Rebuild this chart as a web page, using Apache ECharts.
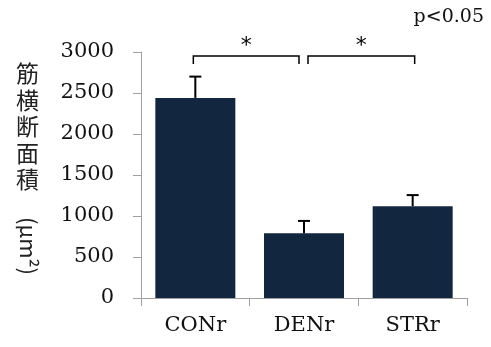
<!DOCTYPE html>
<html><head><meta charset="utf-8">
<script src="https://cdn.jsdelivr.net/npm/echarts@6/dist/echarts.min.js"></script>
<style>html,body{margin:0;padding:0;background:#fff}#c{width:491px;height:347px}</style>
</head><body><div id="c"></div>
<script>
const categories = ['CONr', 'DENr', 'STRr'];
const means = [2440, 790, 1120];
const errors = [260, 150, 135];
const yTicks = [0, 500, 1000, 1500, 2000, 2500, 3000];
const brackets = [[0, 1, 2950], [1, 2, 2950]];
const bracketLabels = ['*', '*'];

const chart = echarts.init(document.getElementById('c'), null, {renderer: 'canvas'});
const serif = 'DejaVu Serif';
chart.setOption({
  animation: false,
  grid: {left: 141, right: 24, top: 52, bottom: 49},
  xAxis: {
    type: 'category', data: categories,
    axisLine: {lineStyle: {color: '#a0a0a0', width: 1}},
    axisTick: {show: true, length: 8, lineStyle: {color: '#a0a0a0'}},
    axisLabel: {color: '#111', fontFamily: serif, fontSize: 21, margin: 17}
  },
  yAxis: {
    type: 'value', min: yTicks[0], max: yTicks[yTicks.length - 1], interval: 500,
    axisLine: {show: true, lineStyle: {color: '#a0a0a0', width: 1}},
    axisTick: {show: true, length: 8, lineStyle: {color: '#a0a0a0'}},
    splitLine: {show: false},
    axisLabel: {color: '#111', fontFamily: serif, fontSize: 21, margin: 27, formatter: v => String(v)}
  },
  graphic: [
    {type: 'text', left: 16, top: 60, style: {text: '筋\n横\n断\n面\n積', font: '23px "Noto Sans CJK JP"', lineHeight: 26.6, fill: '#222'}},
    {type: 'text', x: 28, y: 246, rotation: -Math.PI / 2, style: {text: '(μm²)', font: '22px "Noto Sans CJK JP"', fill: '#222', align: 'center', verticalAlign: 'middle'}},
    {type: 'text', right: 7, top: 8, style: {text: 'p<0.05', font: '19px "DejaVu Serif"', fill: '#111'}}
  ],
  series: [
    {type: 'bar', data: means, barWidth: 80, itemStyle: {color: '#13263f'}, z: 2},
    {
      type: 'custom', z: 3,
      data: categories.map((c, i) => [i, means[i], means[i] + errors[i]]),
      renderItem: function (params, api) {
        const lo = api.coord([api.value(0), api.value(1)]);
        const hi = api.coord([api.value(0), api.value(2)]);
        return {type: 'group', children: [
          {type: 'line', shape: {x1: lo[0], y1: lo[1], x2: hi[0], y2: hi[1]}, style: {stroke: '#000', lineWidth: 2}},
          {type: 'line', shape: {x1: hi[0] - 6, y1: hi[1], x2: hi[0] + 6, y2: hi[1]}, style: {stroke: '#000', lineWidth: 2}}
        ]};
      }
    },
    {
      type: 'custom', z: 4, clip: false,
      data: brackets.map((b, i) => [b[0], b[1], b[2], i]),
      renderItem: function (params, api) {
        const idx = params.dataIndex;
        const a = api.coord([api.value(0), api.value(2)]);
        const b = api.coord([api.value(1), api.value(2)]);
        const x1 = a[0] + (idx === 0 ? -2 : 4);
        const x2 = b[0] + (idx === 0 ? -5 : 2);
        const y = a[1];
        return {type: 'group', children: [
          {type: 'polyline', shape: {points: [[x1, y + 8], [x1, y], [x2, y], [x2, y + 8]]}, style: {stroke: '#000', lineWidth: 1.5, fill: null}},
          {type: 'text', x: (x1 + x2) / 2, y: y - 10, style: {text: bracketLabels[idx], font: '22px "DejaVu Sans"', fill: '#000', align: 'center', verticalAlign: 'middle'}}
        ]};
      }
    }
  ]
});
</script></body></html>
